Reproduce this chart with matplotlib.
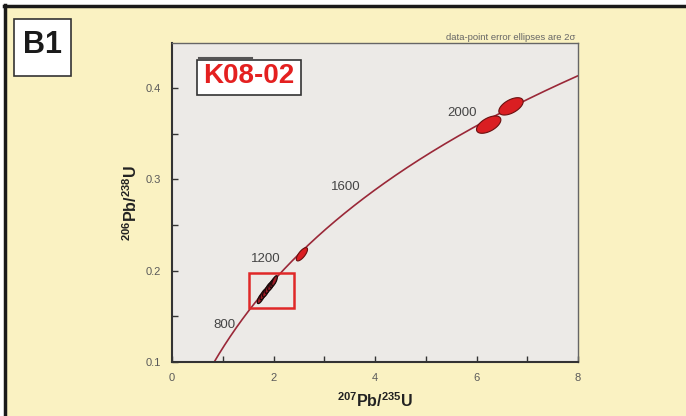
import numpy as np
import matplotlib
matplotlib.use("Agg")
import matplotlib.pyplot as plt
from matplotlib.patches import Rectangle, Polygon
from matplotlib.lines import Line2D

plt.rcParams["font.family"] = ["Liberation Sans", "DejaVu Sans"]
plt.rcParams["mathtext.fontset"] = "custom"
plt.rcParams["mathtext.rm"] = "Liberation Sans"
plt.rcParams["mathtext.bf"] = "Liberation Sans:bold"

# ---- data ----
LAMBDA_238 = 1.55125e-10
LAMBDA_235 = 9.8485e-10
concordia_ages_ma = np.linspace(550, 2400, 400)
age_labels = ["800", "1200", "1600", "2000"]
age_label_x = [1.03, 1.85, 3.43, 5.72]
age_label_y = [0.140, 0.213, 0.292, 0.373]

# red ellipses (x0, y0, 2sigma x, 2sigma y, rho)
red_x = [6.24, 6.68, 2.56]
red_y = [0.360, 0.380, 0.218]
red_sx = [0.24, 0.24, 0.11]
red_sy = [0.0095, 0.0095, 0.0073]
red_rho = [0.55, 0.55, 0.73]

# dark cluster ellipses inside the box
dark_x = [1.75, 1.80, 1.85, 1.90, 1.95, 1.99, 2.02]
dark_y = [0.170, 0.174, 0.177, 0.181, 0.184, 0.187, 0.189]
dark_sx = [0.07, 0.065, 0.065, 0.065, 0.065, 0.06, 0.055]
dark_sy = [0.0060, 0.0058, 0.0058, 0.0058, 0.0058, 0.0055, 0.0055]
dark_rho = [0.72, 0.70, 0.70, 0.70, 0.70, 0.70, 0.70]

box_x = [1.52, 2.41]
box_y = [0.159, 0.197]

x_ticks = [0, 2, 4, 6, 8]
y_ticks = [0.1, 0.2, 0.3, 0.4]

W, H = 686, 416
fig = plt.figure(figsize=(W / 100, H / 100), dpi=100)
fig.patch.set_facecolor("white")
fig.patches.append(Rectangle((5 / W, 0), 1 - 5 / W, 1 - 6 / H, transform=fig.transFigure,
                             facecolor="#FAF2C2", edgecolor="none", zorder=-10))
fig.lines.append(Line2D([4 / W, 1], [1 - 6 / H, 1 - 6 / H], transform=fig.transFigure,
                        color="#1a1a1a", lw=2.5, zorder=-5))
fig.lines.append(Line2D([5 / W, 5 / W], [0, 1 - 5 / H], transform=fig.transFigure,
                        color="#1a1a1a", lw=2.5, zorder=-5))

ax = fig.add_axes([172 / W, 1 - 362 / H, (578 - 172) / W, (362 - 43) / H])
ax.set_zorder(1)
ax.set_facecolor("#ECEAE7")
ax.set_xlim(0, 8)
ax.set_ylim(0.1, 0.4494)

t = concordia_ages_ma * 1e6
cx = np.exp(LAMBDA_235 * t) - 1
cy = np.exp(LAMBDA_238 * t) - 1
ax.plot(cx, cy, color="#9A2838", lw=1.2, zorder=2)

def ellipse_pts(x0, y0, sx, sy, rho, n=100):
    th = np.linspace(0, 2 * np.pi, n)
    xs = x0 + sx * np.cos(th)
    ys = y0 + sy * (rho * np.cos(th) + np.sqrt(1 - rho ** 2) * np.sin(th))
    return np.column_stack([xs, ys])

for x0, y0, sx, sy, r in zip(red_x, red_y, red_sx, red_sy, red_rho):
    ax.add_patch(Polygon(ellipse_pts(x0, y0, sx, sy, r), closed=True,
                         facecolor="#DA1E22", edgecolor="#6A1010", lw=0.8, zorder=3))
for x0, y0, sx, sy, r in zip(dark_x, dark_y, dark_sx, dark_sy, dark_rho):
    ax.add_patch(Polygon(ellipse_pts(x0, y0, sx, sy, r), closed=True,
                         facecolor="#A01C26", edgecolor="#1a0a0a", lw=0.9, zorder=3))

ax.add_patch(Rectangle((box_x[0], box_y[0]), box_x[1] - box_x[0], box_y[1] - box_y[0],
                       fill=False, edgecolor="#E02828", lw=1.8, zorder=4))

for lab, lx, ly in zip(age_labels, age_label_x, age_label_y):
    ax.text(lx, ly, lab, fontsize=9.5, color="#444444", ha="center", va="center", zorder=5)

ax.set_xticks(x_ticks)
ax.set_xticklabels([str(v) for v in x_ticks])
ax.set_yticks(y_ticks)
ax.set_yticklabels([f"{v:.1f}" for v in y_ticks])
ax.set_xticks([1, 3, 5, 7], minor=True)
ax.set_yticks([0.15, 0.25, 0.35], minor=True)
ax.tick_params(which="both", direction="in", length=4, width=1, color="#333333",
               labelsize=8, labelcolor="#5a5a5a", pad=8)

for s in ["left", "bottom"]:
    ax.spines[s].set_color("#333333")
    ax.spines[s].set_linewidth(1.5)
for s in ["top", "right"]:
    ax.spines[s].set_color("#666666")
    ax.spines[s].set_linewidth(1.0)

ax.set_xlabel(r"$\mathbf{^{207}Pb/^{235}U}$", fontsize=11.5, color="#222222", labelpad=6)
ax.set_ylabel(r"$\mathbf{^{206}Pb/^{238}U}$", fontsize=11.5, color="#222222", labelpad=4)

fig.text(575 / W, 1 - 38 / H, "data-point error ellipses are 2σ", fontsize=6.8,
         color="#666666", ha="right", va="center")

# B1 box
fig.patches.append(Rectangle((14 / W, 1 - 76 / H), 57 / W, 57 / H, transform=fig.transFigure,
                             facecolor="white", edgecolor="#333333", lw=1.2, zorder=2))
fig.text(42.5 / W, 1 - 45 / H, "B1", fontsize=22, fontweight="bold", color="#1a1a1a",
         ha="center", va="center", zorder=3)

# sample label
fig.lines.append(Line2D([199 / W, 252 / W], [1 - 58 / H, 1 - 58 / H], transform=fig.transFigure,
                        color="#555555", lw=1.5, zorder=3))
fig.patches.append(Rectangle((197 / W, 1 - 95 / H), 104 / W, 35 / H, transform=fig.transFigure,
                             facecolor="white", edgecolor="#333333", lw=1.2, zorder=2))
fig.text(249 / W, 1 - 76 / H, "K08-02", fontsize=20, fontweight="bold", color="#E42020",
         ha="center", va="center", zorder=3)

fig.savefig("out.png", dpi=100, facecolor=fig.get_facecolor())
